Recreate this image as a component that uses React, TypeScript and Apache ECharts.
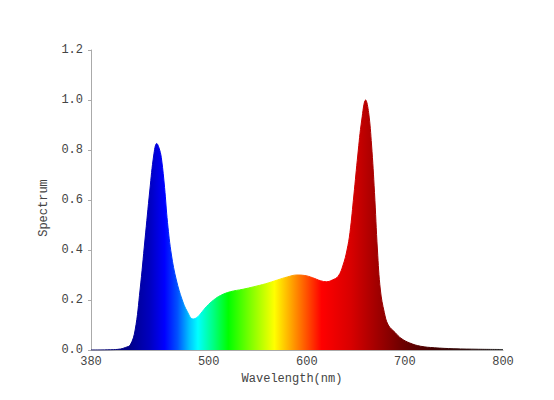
import React, { useEffect, useRef } from 'react';
import * as echarts from 'echarts';

// wavelength (nm) and relative spectrum
const wavelengths = [
  380, 400, 410, 415, 420, 425, 430, 435, 440, 444, 447, 450, 452, 455, 458, 462, 467, 473, 478, 484,
  488, 492, 498, 505, 512, 522, 535, 546, 558, 570, 580, 590, 598, 606, 614, 620, 626, 632, 637, 641,
  644, 648, 652, 656, 660, 663, 666, 669, 672, 675, 679, 683, 690, 696, 705, 716, 730, 750, 775, 800,
];
const spectrum = [
  0, 0.001, 0.004, 0.01, 0.02, 0.08, 0.24, 0.44, 0.64, 0.78, 0.826, 0.8, 0.76, 0.65, 0.51, 0.38, 0.28, 0.2, 0.155, 0.124,
  0.13, 0.147, 0.175, 0.2, 0.218, 0.233, 0.243, 0.253, 0.265, 0.28, 0.292, 0.3, 0.298, 0.289, 0.277, 0.273, 0.28, 0.295, 0.34, 0.4,
  0.47, 0.62, 0.78, 0.92, 1.0, 0.95, 0.82, 0.63, 0.4, 0.24, 0.15, 0.1, 0.07, 0.047, 0.028, 0.015, 0.009, 0.005, 0.003, 0.002,
];
const xTickLabels = [380, 500, 600, 700, 800];

// spectral colours along the wavelength axis
const stopWavelengths = [380, 420, 440, 455, 468, 480, 489, 505, 520, 543, 567, 585, 603, 615, 645, 672, 696, 730, 800];
const stopColors = [
  '#000060', '#00008c', '#0000c0', '#0000ff', '#0050ff', '#00c0ff', '#00ffff', '#00ff80', '#00ff00', '#80ff00',
  '#ffff00', '#ffa000', '#ff4000', '#ff0000', '#d80000', '#a00000', '#700000', '#400000', '#202020',
];

const FONT = "'Liberation Mono', 'DejaVu Sans Mono', monospace";

const App: React.FC = () => {
  const chartRef = useRef<HTMLDivElement | null>(null);

  useEffect(() => {
    if (!chartRef.current) return;
    const chart = echarts.init(chartRef.current, undefined, { renderer: 'svg' });

    const gradient = new echarts.graphic.LinearGradient(
      0, 0, 1, 0,
      stopWavelengths.map((w, i) => ({ offset: (w - 380) / 420, color: stopColors[i] }))
    );

    chart.setOption({
      animation: false,
      backgroundColor: '#fff',
      grid: { left: 91, right: 51, top: 50, bottom: 50 },
      xAxis: {
        type: 'value',
        min: 380,
        max: 800,
        name: 'Wavelength(nm)',
        nameLocation: 'middle',
        nameGap: 21,
        nameTextStyle: { fontFamily: FONT, fontSize: 12, color: '#444', padding: [0, 10, 0, 0] },
        axisLine: { lineStyle: { color: '#aaa', width: 1 } },
        axisTick: { show: false },
        splitLine: { show: false },
        axisLabel: {
          customValues: xTickLabels,
          fontFamily: FONT,
          fontSize: 12,
          color: '#444',
          margin: 6,
        },
      },
      yAxis: {
        type: 'value',
        min: 0,
        max: 1.2,
        interval: 0.2,
        name: 'Spectrum',
        nameLocation: 'middle',
        nameGap: 41,
        nameTextStyle: { fontFamily: FONT, fontSize: 12, color: '#444', padding: [0, 0, 0, -16] },
        axisLine: { show: true, lineStyle: { color: '#aaa', width: 1 } },
        axisTick: { show: true, length: 3, lineStyle: { color: '#aaa' } },
        splitLine: { show: false },
        axisLabel: {
          formatter: (v: number) => v.toFixed(1),
          fontFamily: FONT,
          fontSize: 12,
          color: '#444',
          margin: 8,
        },
      },
      series: [
        {
          type: 'line',
          data: wavelengths.map((w, i) => [w, spectrum[i]]),
          smooth: 0.4,
          symbol: 'none',
          lineStyle: { width: 1, color: gradient },
          areaStyle: { color: gradient, opacity: 1 },
          z: 1,
        },
      ],
    });

    return () => {
      chart.dispose();
    };
  }, []);

  return <div ref={chartRef} style={{ position: 'fixed', left: 0, top: 0, width: '554px', height: '400px' }} />;
};

export default App;
